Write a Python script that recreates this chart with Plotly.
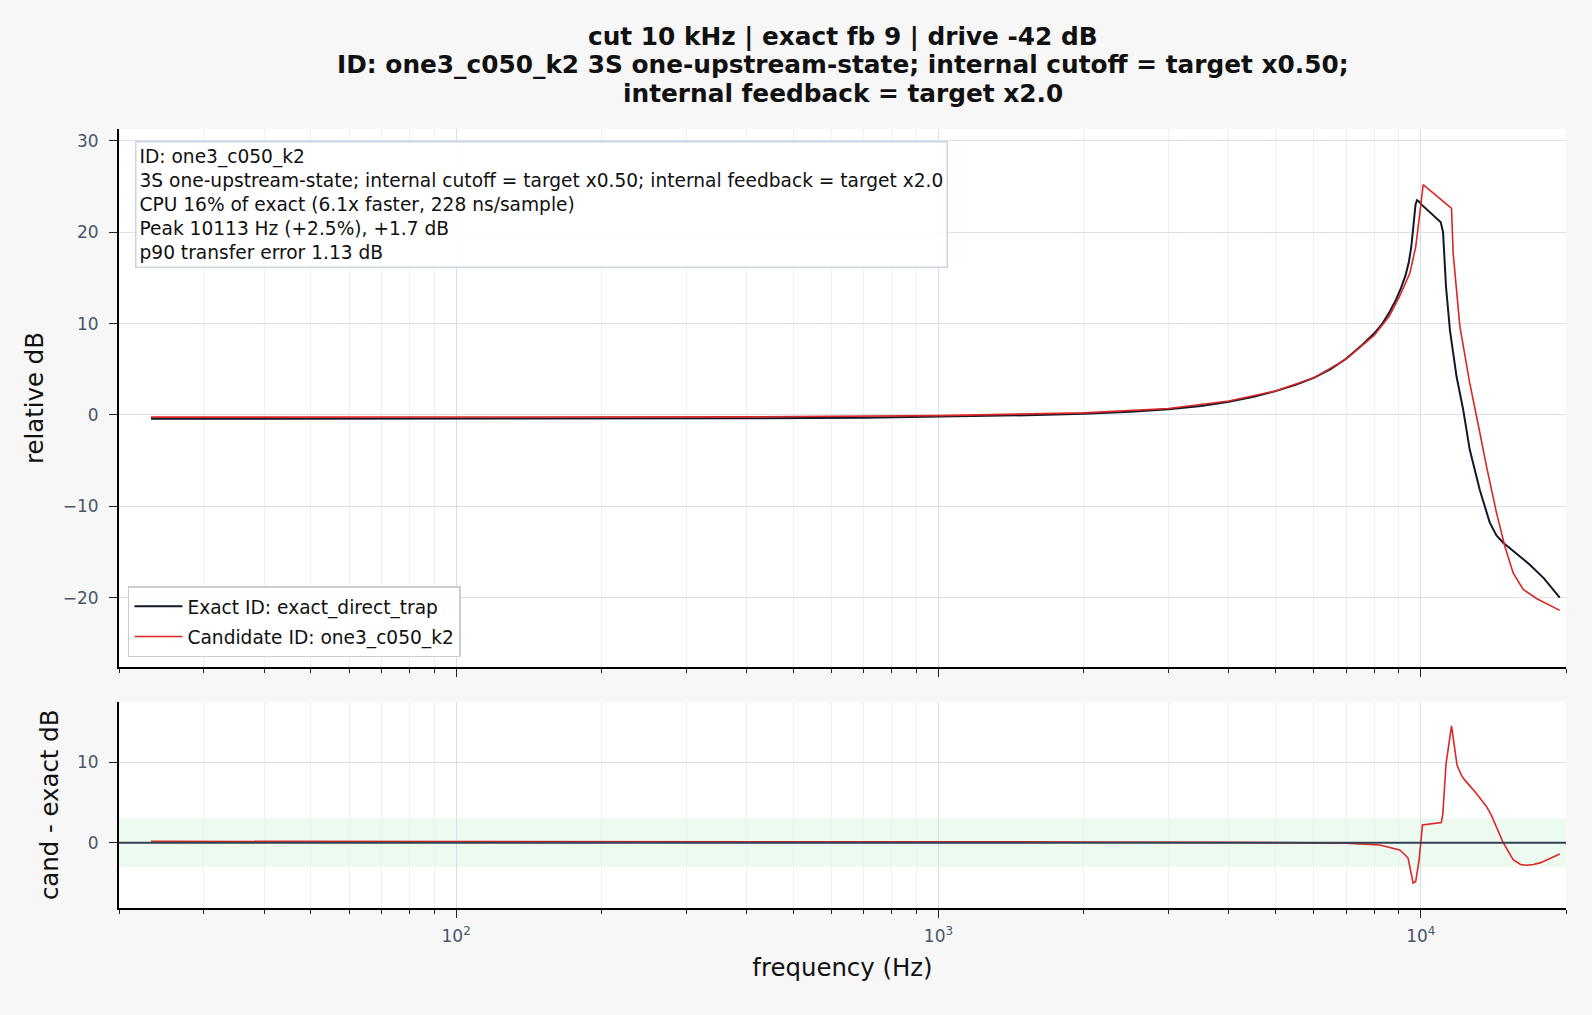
import math
import plotly.graph_objects as go
from plotly.subplots import make_subplots

# ---------------- data ----------------
exact_freq = [23.3, 40, 70, 100, 200, 400, 700, 1000, 1300, 1600, 2000, 2500, 3000, 3500,
              4000, 4500, 5000, 5500, 6000, 6500, 7000, 7500, 8000, 8300, 8600, 8900, 9100,
              9300, 9450, 9550, 9620, 9680, 9750, 9820, 9900, 10000, 10500, 11000, 11120,
              11200, 11280, 11490, 11860, 12240, 12630, 13250, 13600, 13900, 14350, 14820,
              15800, 16830, 18000, 19410]
exact_db = [-0.42, -0.42, -0.42, -0.41, -0.40, -0.38, -0.32, -0.22, -0.12, -0.02, 0.13, 0.35,
            0.62, 0.98, 1.45, 1.98, 2.6, 3.3, 4.05, 5.0, 6.15, 7.5, 8.9, 9.9, 11.2, 12.7, 13.9,
            15.3, 16.8, 18.3, 19.9, 21.8, 23.0, 23.5, 23.4, 23.1, 22.1, 21.1, 20.0, 17.0, 14.0,
            9.3, 4.2, 0.6, -3.8, -8.2, -10.2, -11.8, -13.2, -14.0, -15.2, -16.4, -17.9, -20.0]

cand_freq = [23.3, 100, 400, 1000, 2000, 3000, 4000, 5000, 6000, 7000, 8000, 8600, 9040,
             9490, 9760, 9950, 10113, 11580, 11670, 12050, 12630, 13250, 13680, 14350, 14940,
             15540, 16300, 17370, 19410]
cand_db = [-0.25, -0.25, -0.22, -0.08, 0.22, 0.70, 1.52, 2.62, 4.05, 6.1, 8.7, 10.8, 13.0,
           15.5, 18.4, 22.0, 25.2, 22.6, 17.7, 9.7, 3.5, -1.9, -5.6, -10.7, -14.4, -17.3,
           -19.1, -20.1, -21.4]

diff_freq = [23.3, 100, 500, 1000, 2000, 4000, 6000, 7000, 8220, 9040, 9200, 9410, 9520,
             9640, 9760, 9920, 10080, 11030, 11110, 11280, 11580, 11760, 11890, 12160, 12330,
             13040, 13460, 13680, 14010, 14350, 14820, 15540, 16100, 16560, 17100, 17670,
             18500, 19410]
diff_db = [0.17, 0.17, 0.16, 0.14, 0.10, 0.05, 0.0, -0.05, -0.29, -0.9, -1.3, -1.9, -3.4,
           -5.0, -4.8, -2.1, 2.2, 2.5, 3.6, 9.8, 14.5, 11.5, 9.6, 8.3, 7.8, 6.1, 5.1, 4.5, 3.4,
           2.0, 0.0, -2.1, -2.7, -2.8, -2.7, -2.5, -2.0, -1.4]

major_tick_freqs = [100, 1000, 10000]
major_tick_text = ["10<sup>2</sup>", "10<sup>3</sup>", "10<sup>4</sup>"]
minor_tick_freqs = [20, 30, 40, 50, 60, 70, 80, 90, 200, 300, 400, 500, 600, 700, 800, 900,
                    2000, 3000, 4000, 5000, 6000, 7000, 8000, 9000, 20000]

title_lines = ["cut 10 kHz | exact fb 9 | drive -42 dB",
               "ID: one3_c050_k2 3S one-upstream-state; internal cutoff = target x0.50;",
               "internal feedback = target x2.0"]
info_lines = ["ID: one3_c050_k2",
              "3S one-upstream-state; internal cutoff = target x0.50; internal feedback = target x2.0",
              "CPU 16% of exact (6.1x faster, 228 ns/sample)",
              "Peak 10113 Hz (+2.5%), +1.7 dB",
              "p90 transfer error 1.13 dB"]

# ---------------- figure ----------------
FONT = "DejaVu Sans"
EXACT_C = "#111827"
CAND_C = "#dc2626"
TICK_C = "#475569"
W, H = 1592, 1015
ML, MR, MT, MB = 119, 26, 129, 107
PLOT_H = H - MT - MB

fig = make_subplots(rows=2, cols=1, shared_xaxes=True)

fig.add_trace(go.Scatter(x=exact_freq, y=exact_db, mode="lines",
                         name="Exact ID: exact_direct_trap", legendgroup="a",
                         line=dict(color=EXACT_C, width=2)), row=1, col=1)
fig.add_trace(go.Scatter(x=cand_freq, y=cand_db, mode="lines",
                         name="Candidate ID: one3_c050_k2", legendgroup="b",
                         line=dict(color=CAND_C, width=1.6)), row=1, col=1)

# tolerance band and zero line in the difference panel
fig.add_shape(type="rect", xref="x2 domain", yref="y2", x0=0, x1=1, y0=-3, y1=3,
              fillcolor="#ecfaf0", line=dict(width=0), layer="below")
fig.add_shape(type="line", xref="x2 domain", yref="y2", x0=0, x1=1, y0=0, y1=0,
              line=dict(color="#334155", width=2), layer="above")
fig.add_trace(go.Scatter(x=diff_freq, y=diff_db, mode="lines", showlegend=False,
                         line=dict(color=CAND_C, width=1.6)), row=2, col=1)

xrange = [math.log10(20), math.log10(20000)]
xcommon = dict(type="log", range=xrange, tickmode="array",
               tickvals=major_tick_freqs, ticktext=major_tick_text,
               showgrid=True, gridcolor="#d7deea", gridwidth=1,
               ticks="outside", ticklen=8, tickwidth=1.4, tickcolor="#222",
               ticklabelstandoff=4,
               showline=True, linecolor="black", linewidth=1.8, mirror=False,
               zeroline=False,
               tickfont=dict(family=FONT, size=17, color=TICK_C),
               minor=dict(tickvals=minor_tick_freqs, ticks="outside", ticklen=4,
                          tickwidth=1, tickcolor="#222", showgrid=True,
                          gridcolor="#edf0f5", gridwidth=1))
fig.update_xaxes(**xcommon)
fig.update_xaxes(showticklabels=False, row=1, col=1)
fig.update_xaxes(title=dict(text="frequency (Hz)", standoff=14,
                            font=dict(family=FONT, size=24.4, color="#111")), row=2, col=1)

ycommon = dict(showgrid=True, gridcolor="#d9e0eb", gridwidth=1, zeroline=False,
               ticks="outside", ticklen=8, tickwidth=1.4, tickcolor="#222",
               ticklabelstandoff=7,
               showline=True, linecolor="black", linewidth=1.8, mirror=False,
               tickfont=dict(family=FONT, size=17, color=TICK_C), dtick=10, tick0=0)
fig.update_yaxes(**ycommon)
fig.update_yaxes(range=[-27.6, 31.3], domain=[0.3094, 1.0],
                 title=dict(text="relative dB", standoff=12,
                            font=dict(family=FONT, size=24.4, color="#111")), row=1, col=1)
fig.update_yaxes(range=[-8.1, 17.5], domain=[0.0, 0.2648],
                 title=dict(text="cand - exact dB", standoff=12,
                            font=dict(family=FONT, size=24.4, color="#111")), row=2, col=1)

# multi-line bold title, one line per annotation for exact line spacing
title_centers_px = [36.7, 65.0, 93.3]
for txt, cy in zip(title_lines, title_centers_px):
    fig.add_annotation(xref="paper", yref="paper", x=0.5, y=(H - MB - cy) / PLOT_H,
                       xanchor="center", yanchor="middle", showarrow=False,
                       text="<b>%s</b>" % txt,
                       font=dict(family=FONT, size=24.8, color="#111"))

fig.add_annotation(xref="paper", yref="paper", x=0.011, y=0.9846,
                   xanchor="left", yanchor="top", align="left", showarrow=False,
                   text="<br>".join(info_lines),
                   font=dict(family=FONT, size=18.6, color="#111"),
                   bgcolor="rgba(255,255,255,0.9)", bordercolor="#cbd5e1",
                   borderwidth=1.5, borderpad=3)

fig.update_layout(
    width=W, height=H,
    margin=dict(l=ML, r=MR, t=MT, b=MB),
    paper_bgcolor="#f7f7f7", plot_bgcolor="white",
    font=dict(family=FONT, color="#111"),
    legend=dict(x=0.0062, y=0.322, xanchor="left", yanchor="bottom",
                bgcolor="rgba(255,255,255,0.9)", bordercolor="#cccccc", borderwidth=1.5,
                itemwidth=48, traceorder="grouped", tracegroupgap=3,
                font=dict(family=FONT, size=18.6, color="#111")),
    showlegend=True,
)

fig.write_html("out.html")
